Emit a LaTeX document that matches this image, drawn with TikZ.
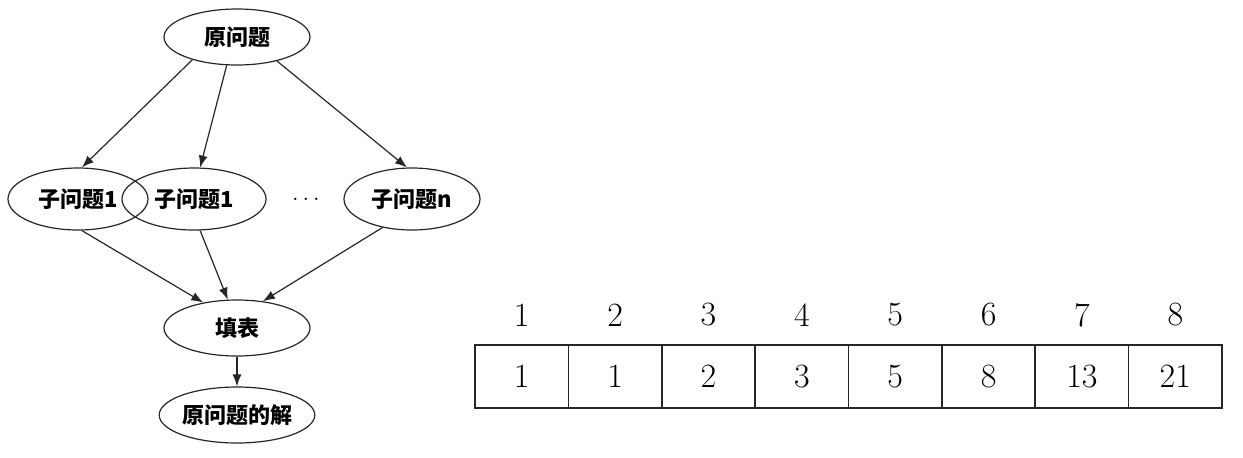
\documentclass[tikz,border=0pt]{standalone}
\usepackage{fontspec}
\newfontfamily\cjk{Noto Sans CJK SC}
\usetikzlibrary{arrows.meta,shapes.geometric}

\begin{document}
\begin{tikzpicture}[x=0.5pt,y=-0.5pt,->,>={Latex[length=6pt,width=4.5pt]},semithick,draw=black!85,
		prob/.style={ellipse,draw,inner sep=0pt,minimum width=73pt,minimum height=28pt,font=\cjk\bfseries\fontsize{11}{13}\selectfont},
		sub/.style={prob,minimum width=70pt,minimum height=31pt},
		cell/.style={draw,rectangle,thick,minimum width=46.7pt,minimum height=31.5pt,inner sep=0pt,font=\fontsize{17}{20}\selectfont},
		idx/.style={font=\fontsize{17}{20}\selectfont}]
	\useasboundingbox (0,0) rectangle (1243,457);
	
	\node[prob] (P) at (237,37) {原问题};
	\node[sub] (S1) at (78,199) {子问题1};
	\node[sub,minimum width=72pt] (S2) at (194,199) {子问题1};
	\node[font=\bfseries\large] (D) at (306,199) {$\ldots$};
	\node[sub,minimum width=68pt] (Sn) at (412,199) {子问题n};
	\node[prob] (F) at (237,328) {填表};
	\node[prob,minimum width=72pt] (R) at (237,415) {原问题的解};
	
	\path
	(P.207) edge (S1.83)
	(P.250) edge (S2.79)
	(P.329) edge (Sn.99)
	(S1.277) edge (F.143)
	(S2.281) edge (F.108)
	(Sn.224) edge (F.46)
	(F) edge (R);
	
	% table
	\foreach \v [count=\i] in {1,1,2,3,5,8,13,21} {
		\node[idx] (h\i) at (475+93.375*\i-46.69,315) {\i};
		\node[cell] (c\i) at (475+93.375*\i-46.69,376.5) {\v};
	}
\end{tikzpicture}
\end{document}
